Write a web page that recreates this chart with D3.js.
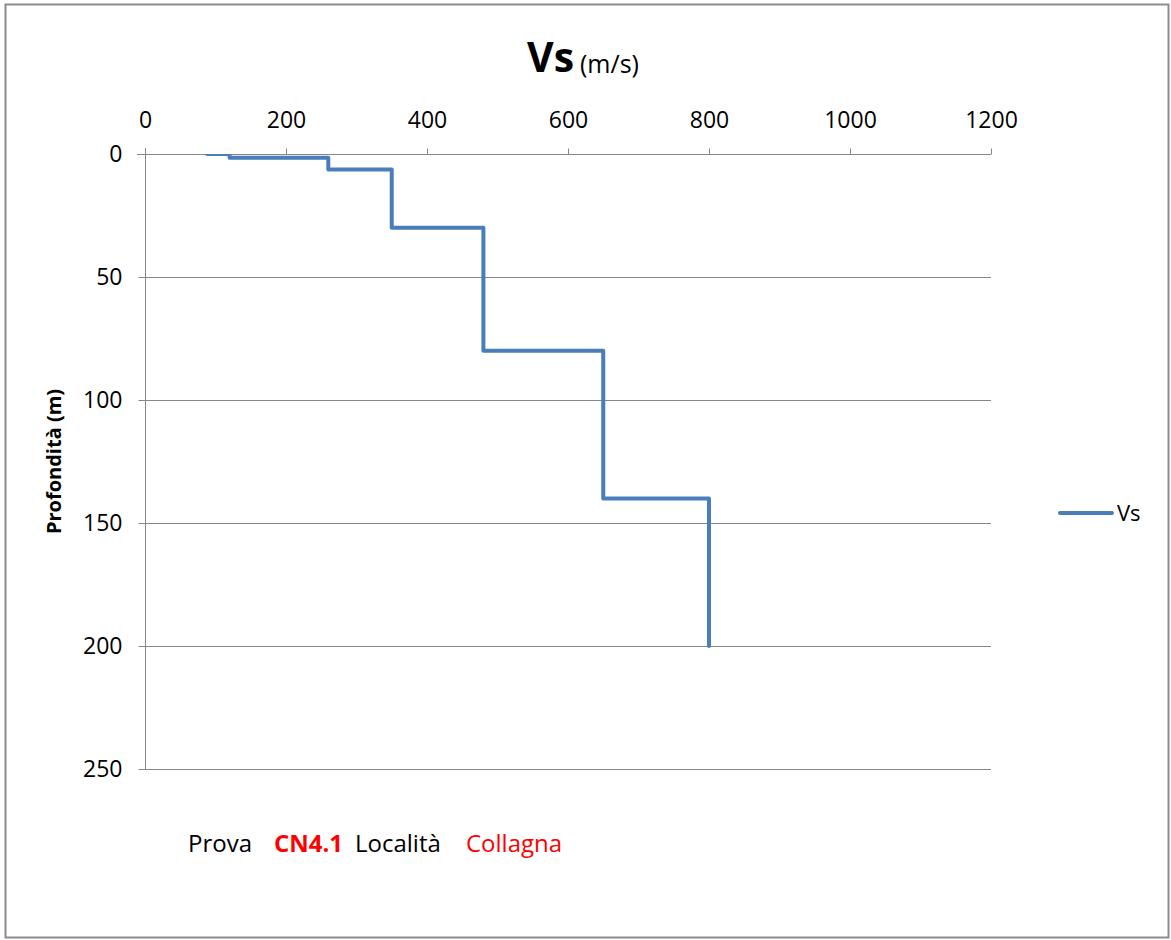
<!DOCTYPE html>
<html>
<head>
<meta charset="utf-8">
<script src="https://cdn.jsdelivr.net/npm/d3@7"></script>
<style>
  html, body { margin: 0; padding: 0; background: #fff; }
  svg { display: block; }
  text { font-family: "Open Sans", "Noto Sans", sans-serif; }
</style>
</head>
<body>
<svg id="chart" width="1171" height="940"></svg>
<script>
// Vs profile: velocity (m/s) against depth (m), drawn as a step line
const velocity = [88, 120, 120, 260, 260, 350, 350, 480, 480, 650, 650, 800, 800];
const depth    = [0,  0,   1.5, 1.5, 6.3, 6.3, 30,  30,  80,  80,  140, 140, 200];
const xTicks = [0, 200, 400, 600, 800, 1000, 1200];
const yTicks = [0, 50, 100, 150, 200, 250];
const seriesName = "Vs";

const svg = d3.select("#chart");

// outer frame
svg.append("rect")
  .attr("x", 5.5).attr("y", 4.5).attr("width", 1163).attr("height", 933)
  .attr("fill", "#fff").attr("stroke", "#8c8c8c").attr("stroke-width", 2);

const plot = { left: 145, right: 991, top: 154, bottom: 769 };
const x = d3.scaleLinear().domain([0, 1200]).range([plot.left, plot.right]);
const y = d3.scaleLinear().domain([0, 250]).range([plot.top, plot.bottom]);

const axisColor = "#868686";

// horizontal gridlines
svg.append("g")
  .selectAll("line")
  .data(yTicks.slice(1))
  .join("line")
  .attr("x1", plot.left).attr("x2", plot.right)
  .attr("y1", d => Math.round(y(d)) + 0.5).attr("y2", d => Math.round(y(d)) + 0.5)
  .attr("stroke", axisColor).attr("stroke-width", 1);

// top x axis
const xAxis = svg.append("g")
  .attr("transform", `translate(0,${plot.top + 0.5})`)
  .call(d3.axisTop(x).tickValues(xTicks).tickSize(6).tickPadding(21).tickFormat(d3.format("d")));
xAxis.select(".domain").attr("stroke", axisColor).attr("d", `M${plot.left - 8},0H${plot.right}`);
xAxis.selectAll(".tick line").attr("stroke", axisColor);
xAxis.selectAll(".tick text").attr("fill", "#000").style("font-size", "23px");

// left y axis
const yAxis = svg.append("g")
  .attr("transform", `translate(${plot.left + 0.5},0)`)
  .call(d3.axisLeft(y).tickValues(yTicks).tickSize(7).tickPadding(16).tickFormat(d3.format("d")));
yAxis.select(".domain").attr("stroke", axisColor).attr("d", `M0,${plot.top - 6}V${plot.bottom}`);
yAxis.selectAll(".tick line").attr("stroke", axisColor);
yAxis.selectAll(".tick text").attr("fill", "#000").style("font-size", "23px");

// clip the series to the plot area
svg.append("clipPath").attr("id", "plotClip")
  .append("rect")
  .attr("x", plot.left).attr("y", plot.top)
  .attr("width", plot.right - plot.left).attr("height", plot.bottom - plot.top);

const pts = velocity.map((v, i) => [v, depth[i]]);
const line = d3.line().x(d => x(d[0])).y(d => y(d[1]));

svg.append("path")
  .attr("clip-path", "url(#plotClip)")
  .attr("d", line(pts))
  .attr("fill", "none")
  .attr("stroke", "#4a7ebb")
  .attr("stroke-width", 4)
  .attr("stroke-linejoin", "round")
  .attr("stroke-linecap", "round");

// title
svg.append("text")
  .attr("x", 527).attr("y", 72)
  .style("font-size", "41px").style("font-weight", "bold")
  .text("Vs");
svg.append("text")
  .attr("x", 580).attr("y", 73)
  .style("font-size", "25px")
  .text("(m/s)");

// y axis title
svg.append("text")
  .attr("transform", `translate(61,${(plot.top + plot.bottom) / 2}) rotate(-90)`)
  .attr("text-anchor", "middle")
  .style("font-size", "20px").style("font-weight", "bold")
  .text("Profondità (m)");

// legend
svg.append("line")
  .attr("x1", 1060).attr("x2", 1112).attr("y1", 513).attr("y2", 513)
  .attr("stroke", "#4a7ebb").attr("stroke-width", 4).attr("stroke-linecap", "round");
svg.append("text")
  .attr("x", 1117).attr("y", 521)
  .style("font-size", "22px")
  .text(seriesName);

// footer note
const note = svg.append("g").style("font-size", "24px");
note.append("text").attr("x", 188).attr("y", 852).attr("fill", "#000").text("Prova");
note.append("text").attr("x", 274).attr("y", 852).attr("fill", "#ff0000").style("font-weight", "bold").text("CN4.1");
note.append("text").attr("x", 355).attr("y", 852).attr("fill", "#000").text("Località");
note.append("text").attr("x", 466).attr("y", 852).attr("fill", "#ff0000").text("Collagna");
</script>
</body>
</html>
